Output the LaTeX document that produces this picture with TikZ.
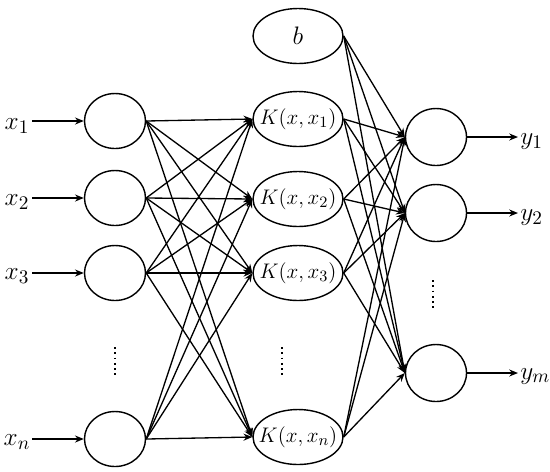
\documentclass[tikz,border=0pt]{standalone}
\usetikzlibrary{arrows.meta,shapes.geometric}
\begin{document}
\begin{tikzpicture}[x=0.02cm,y=-0.02cm,
  every node/.style={font=\fontsize{12.3}{15}\selectfont},
  lab/.style={font=\fontsize{15}{17}\selectfont},
  inp/.style={draw,ellipse,line width=0.8pt,minimum width=1.22cm,minimum height=1.1cm,inner sep=0pt},
  ker/.style={draw,ellipse,line width=0.8pt,minimum width=1.8cm,minimum height=1.1cm,inner xsep=-14pt,inner ysep=0pt},
  outn/.style={draw,ellipse,line width=0.8pt,minimum width=1.22cm,minimum height=1.14cm,inner sep=0pt},
  conn/.style={line width=0.75pt,-{Stealth[length=5pt,width=4pt]}},
  dotsline/.style={line width=1pt,dotted}]
\useasboundingbox (0,0) rectangle (550,471);
% input layer
\node[inp] (i1) at (115,121) {};
\node[inp] (i2) at (115,198) {};
\node[inp] (i3) at (115,273) {};
\node[inp] (in) at (115,439) {};
% labels
\node[lab] (lx1) at (17,126) {$x_1$};
\node[lab] (lx2) at (17,202) {$x_2$};
\node[lab] (lx3) at (17,276) {$x_3$};
\node[lab] (lxn) at (17,442) {$x_n$};
\coordinate (ax1) at (32,121);
\coordinate (ax2) at (32,198);
\coordinate (ax3) at (32,273);
\coordinate (axn) at (32,439);
\draw[conn] (ax1) -- (i1);
\draw[conn] (ax2) -- (i2);
\draw[conn] (ax3) -- (i3);
\draw[conn] (axn) -- (in);
% kernel layer
\node[ker,lab] (b) at (298,36) {$b$};
\node[ker] (k1) at (298,119) {$K(x,x_1)$};
\node[ker] (k2) at (298,199) {$K(x,x_2)$};
\node[ker] (k3) at (298,273) {$K(x,x_3)$};
\node[ker] (kn) at (298,437) {$K(x,x_n)$};
% output layer
\node[outn] (o1) at (436,137) {};
\node[outn] (o2) at (436,213) {};
\node[outn] (om) at (436,373) {};
\coordinate (ay1) at (518,137);
\coordinate (ay2) at (518,213);
\coordinate (aym) at (518,373);
\draw[conn] (o1) -- (ay1);
\draw[conn] (o2) -- (ay2);
\draw[conn] (om) -- (aym);
\node[lab,anchor=west,inner sep=0pt] (ly1) at (520,142) {$y_1$};
\node[lab,anchor=west,inner sep=0pt] (ly2) at (520,218) {$y_2$};
\node[lab,anchor=west,inner sep=0pt] (lym) at (520,376) {$y_m$};
% connections input -> kernel
\foreach \a in {i1,i2,i3,in}
  \foreach \c in {k1,k2,k3,kn}
    \draw[conn] (\a.east) -- (\c.west);
% connections kernel -> output
\foreach \a in {b,k1,k2,k3,kn}
  \foreach \c in {o1,o2,om}
    \draw[conn] (\a.east) -- (\c.west);
% dots
\coordinate (d1a) at (115,347);
\coordinate (d1b) at (115,377);
\coordinate (d2a) at (282,347);
\coordinate (d2b) at (282,377);
\coordinate (d3a) at (433,280);
\coordinate (d3b) at (433,309);
\draw[dotsline] (d1a) -- (d1b);
\draw[dotsline] (d2a) -- (d2b);
\draw[dotsline] (d3a) -- (d3b);
\end{tikzpicture}
\end{document}
